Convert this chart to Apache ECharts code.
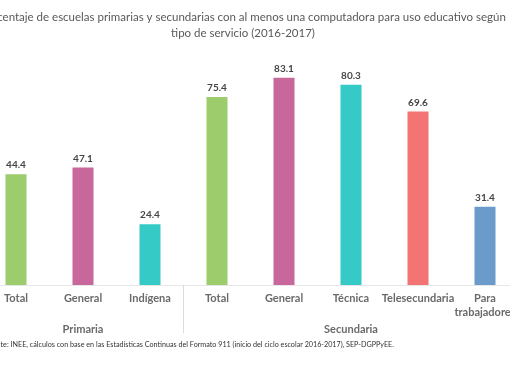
<!DOCTYPE html>
<html>
<head>
<meta charset="utf-8">
<script src="https://cdn.jsdelivr.net/npm/echarts@6/dist/echarts.min.js"></script>
<style>html,body{margin:0;padding:0;background:#fff;}#c{width:510px;height:382px;}</style>
</head>
<body>
<div id="c"></div>
<script>
const categories = ['Total', 'General', 'Indígena', 'Total', 'General', 'Técnica', 'Telesecundaria', 'Para\ntrabajadores'];
const groupLabels = ['', 'Primaria', '', '', '', 'Secundaria', '', ''];
const values = [44.4, 47.1, 24.4, 75.4, 83.1, 80.3, 69.6, 31.4];
const colors = ['#9ccc6c', '#c7679b', '#35cac6', '#9ccc6c', '#c7679b', '#35cac6', '#f47373', '#6b9bcb'];
const titleText = 'Porcentaje de escuelas primarias y secundarias con al menos una computadora para uso educativo según\ntipo de servicio (2016-2017)';
const sourceText = 'Fuente: INEE, cálculos con base en las Estadísticas Continuas del Formato 911 (inicio del ciclo escolar 2016-2017), SEP-DGPPyEE.';

const chart = echarts.init(document.getElementById('c'), null, {renderer: 'canvas'});
const FONT = 'Lato, "Open Sans", sans-serif';
chart.setOption({
  animation: false,
  graphic: [
    {
      type: 'text', x: 243, y: 9,
      style: {text: titleText, font: 'normal 11.5px Lato, sans-serif', fill: '#595959', align: 'center', lineHeight: 16.5}
    },
    {
      type: 'text', x: -15, y: 341,
      style: {text: sourceText, font: 'normal 7.2px Lato, sans-serif', fill: '#333333'}
    }
  ],
  grid: {left: -17.5, width: 536, top: 35.6, bottom: 97, containLabel: false, outerBoundsMode: 'none'},
  xAxis: [
    {
      type: 'category', data: categories,
      axisLine: {show: true, lineStyle: {color: '#e6e6e6', width: 1}},
      axisTick: {show: false},
      axisLabel: {interval: 0, margin: 6, fontFamily: FONT, fontSize: 11, fontWeight: 'bold', color: '#6a6a6a', lineHeight: 14}
    },
    {
      type: 'category', data: groupLabels, position: 'bottom',
      axisLine: {show: false},
      axisTick: {show: true, length: 48, interval: function (i) { return i === 0 || i === 3; }, lineStyle: {color: '#dcdcdc'}},
      axisLabel: {interval: 0, margin: 39, fontFamily: FONT, fontSize: 11, fontWeight: 'bold', color: '#6a6a6a'}
    }
  ],
  yAxis: {type: 'value', min: 0, max: 100, show: false, splitLine: {show: false}},
  series: [{
    type: 'bar', xAxisIndex: 0,
    data: values.map((v, i) => ({value: v, itemStyle: {color: colors[i]}})),
    barWidth: 21,
    label: {show: true, position: 'top', distance: 4, fontFamily: FONT, fontSize: 10, fontWeight: 'bold', color: '#454545', formatter: p => p.value.toFixed(1)}
  }]
});
</script>
</body>
</html>
